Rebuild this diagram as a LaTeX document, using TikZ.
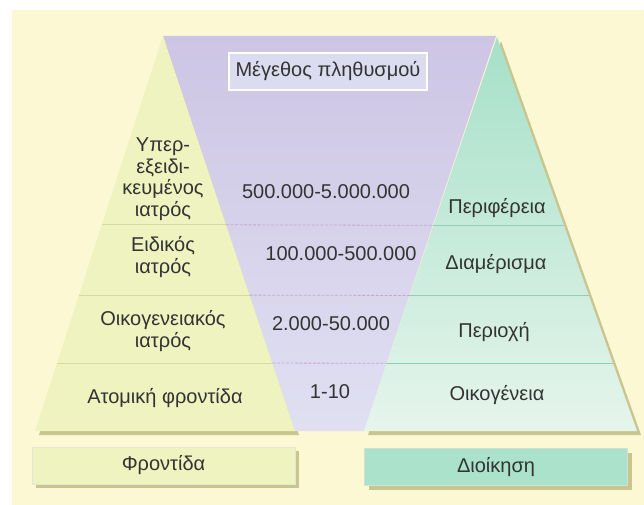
\documentclass[tikz,border=0pt]{standalone}
\usepackage{fontspec}
\setmainfont{Liberation Sans}
\usetikzlibrary{calc,shadows}
\definecolor{pageBg}{HTML}{FBF8D3}
\definecolor{careFill}{HTML}{EEF3BF}
\definecolor{careLine}{HTML}{D6DB9E}
\definecolor{popTop}{HTML}{CDC5E4}
\definecolor{popBottom}{HTML}{E0E0F2}
\definecolor{popBoxFill}{HTML}{DCDCF0}
\definecolor{popLine}{HTML}{C9A6CC}
\definecolor{adminTop}{HTML}{A6E0C8}
\definecolor{adminBottom}{HTML}{E6F5EC}
\definecolor{adminLine}{HTML}{8FD0B4}
\definecolor{adminBoxFill}{HTML}{ABE2CB}
\definecolor{shadowOlive}{HTML}{C9C58E}
\definecolor{textInk}{HTML}{333333}

\begin{document}
\begin{tikzpicture}[
  x=1pt, y=-1pt,
  every node/.style={font=\fontsize{20}{21.5}\selectfont, text=textInk, align=center},
  careRule/.style={careLine, line width=0.8pt},
  popRule/.style={popLine, line width=0.8pt, dash pattern=on 3pt off 1.5pt},
  adminRule/.style={adminLine, line width=0.8pt},
  legendBox/.style={draw=#1!80!black!40, line width=0.5pt, fill=#1,
    minimum height=37pt, minimum width=263pt,
    general shadow={fill=shadowOlive, shadow xshift=4pt, shadow yshift=-4pt}},
  popBox/.style={draw=white, line width=1.5pt, fill=popBoxFill,
    minimum width=198pt, minimum height=37pt}
]
  \useasboundingbox (0,0) rectangle (644,505);
  \fill[white] (0,0) rectangle (644,505);
  \fill[pageBg] (12,10) rectangle (644,505);

  %% ---- corner points ------------------------------------------------
  \coordinate (careApex)  at (163,36);
  \coordinate (careBL)    at (35,431);
  \coordinate (careBR)    at (295,431);
  \coordinate (popTR)     at (496,36);
  \coordinate (adminApex) at (497,37);
  \coordinate (adminBL)   at (364,431);
  \coordinate (adminBR)   at (637,431);

  %% ---- shadows ------------------------------------------------------
  \fill[shadowOlive] ($(careApex)+(4,4)$) -- ($(careBR)+(4,4)$) -- ($(careBL)+(4,4)$) -- cycle;
  \fill[shadowOlive] ($(adminApex)+(4,4)$) -- ($(adminBR)+(4,4)$) -- ($(adminBL)+(4,4)$) -- cycle;

  %% ---- three bands --------------------------------------------------
  \shade[top color=popTop, bottom color=popBottom]
    (careApex) -- (popTR) -- (adminBL) -- (careBR) -- cycle;
  \fill[careFill] (careApex) -- (careBR) -- (careBL) -- cycle;
  \shade[top color=adminTop, bottom color=adminBottom]
    (adminApex) -- (adminBR) -- (adminBL) -- cycle;

  %% ---- level rules --------------------------------------------------
  \foreach \f in {0.478,0.656,0.828} {
    \draw[careRule]  ($(careApex)!\f!(careBL)$) -- ($(careApex)!\f!(careBR)$);
    \draw[popRule]   ($(careApex)!\f!(careBR)$) -- ($(adminApex)!\f!(adminBL)$);
    \draw[adminRule] ($(adminApex)!\f!(adminBL)$) -- ($(adminApex)!\f!(adminBR)$);
  }

  %% ---- title box ----------------------------------------------------
  \node[popBox] (popTitle) at (328,71.5) {Μέγεθος πληθυσμού};

  %% ---- care column --------------------------------------------------
  \node (tierSuper)  at (163,179) {Υπερ-\\εξειδι-\\κευμένος\\ιατρός};
  \node (tierSpec)   at (163,257) {Ειδικός\\ιατρός};
  \node (tierFamily) at (163,331) {Οικογενειακός\\ιατρός};
  \node (tierSelf)   at (165,398) {Ατομική φροντίδα};

  %% ---- population column --------------------------------------------
  \node (popRegion)   at (326,192) {500.000-5.000.000};
  \node (popDistrict) at (341,254) {100.000-500.000};
  \node (popArea)     at (331,324) {2.000-50.000};
  \node (popHome)     at (330,392) {1-10};

  %% ---- admin column -------------------------------------------------
  \node (adminRegion)   at (497,208) {Περιφέρεια};
  \node (adminDistrict) at (496,264) {Διαμέρισμα};
  \node (adminArea)     at (494,332) {Περιοχή};
  \node (adminHome)     at (497,395) {Οικογένεια};

  %% ---- legend boxes -------------------------------------------------
  \node[legendBox=careFill]     (careLegend)  at (163.5,465.5) {Φροντίδα};
  \node[legendBox=adminBoxFill] (adminLegend) at (496,467)     {Διοίκηση};

\end{tikzpicture}
\end{document}
